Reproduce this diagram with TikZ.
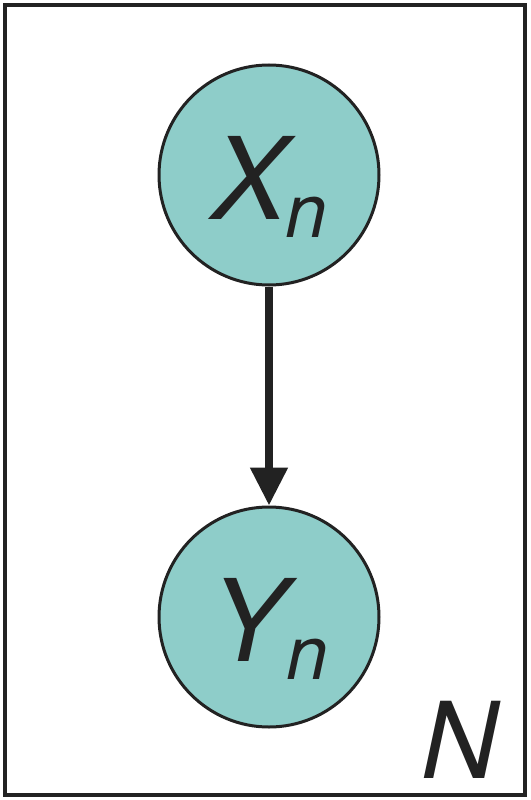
\documentclass[tikz,border=0pt]{standalone}
\usepackage{fontspec}
\setmainfont{TeX Gyre Heros}
\usetikzlibrary{arrows.meta}
\definecolor{nodeteal}{RGB}{142,205,201}
\definecolor{inkdark}{RGB}{34,34,34}
\begin{document}
\begin{tikzpicture}[x=1pt,y=1pt,
  varnode/.style={circle, draw=inkdark, line width=3pt, fill=nodeteal,
    minimum size=220pt, inner sep=0pt, text height=88pt, text depth=0pt,
    font=\fontsize{114}{114}\selectfont\itshape, text=inkdark},
  edge/.style={line width=8pt, draw=inkdark,
    -{Triangle[width=36pt,length=38pt]}},
  plate/.style={draw=inkdark, line width=4pt}]
\useasboundingbox (0,0) rectangle (530,-800);
\node[plate, minimum width=520pt, minimum height=790pt, inner sep=0pt] (plate) at (265,-400) {};
\node[varnode] (x) at (269,-175) {X\kern-2pt\raisebox{-18pt}{\fontsize{75}{75}\selectfont n}};
\node[varnode] (y) at (269,-617) {Y\raisebox{-18pt}{\fontsize{75}{75}\selectfont n}};
\draw[edge] (x.south) -- (y.north);
\node[anchor=base west, inner sep=0pt, text=inkdark,
  font=\fontsize{106}{106}\selectfont\itshape] (nlabel) at (421,-778) {N};
\end{tikzpicture}
\end{document}
